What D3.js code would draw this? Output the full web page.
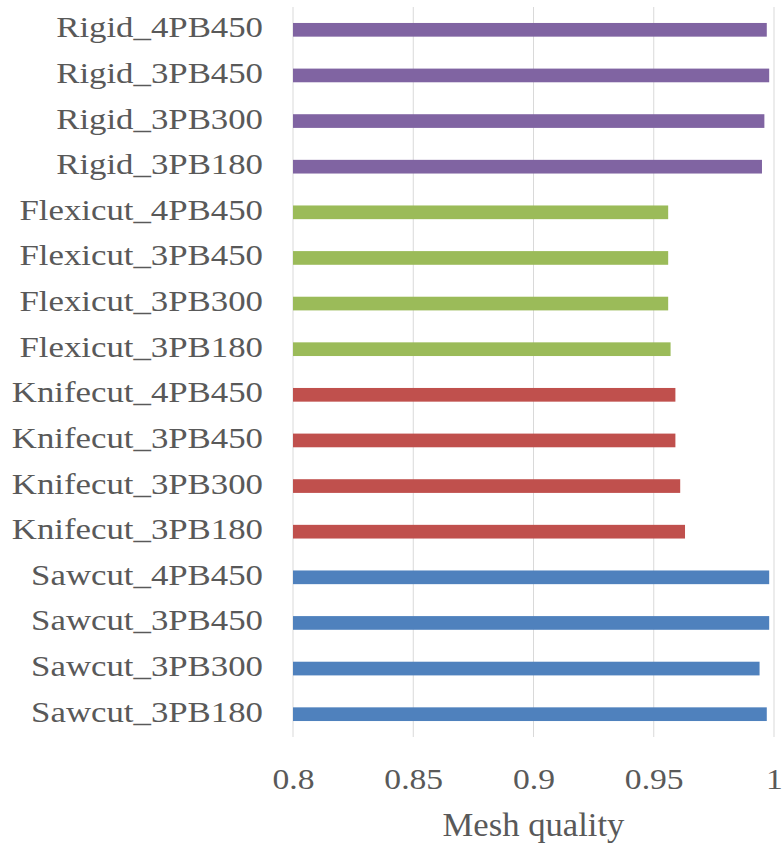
<!DOCTYPE html>
<html>
<head>
<meta charset="utf-8">
<script src="https://cdn.jsdelivr.net/npm/d3@7"></script>
<style>
  body { margin: 0; background: #fff; }
  text { font-family: "Liberation Serif", "Times New Roman", serif; fill: #595959; }
</style>
</head>
<body>
<div id="chart"></div>
<script>
// Mesh quality per specimen, listed bottom to top as in the chart
const categories = [
  "Sawcut_3PB180", "Sawcut_3PB300", "Sawcut_3PB450", "Sawcut_4PB450",
  "Knifecut_3PB180", "Knifecut_3PB300", "Knifecut_3PB450", "Knifecut_4PB450",
  "Flexicut_3PB180", "Flexicut_3PB300", "Flexicut_3PB450", "Flexicut_4PB450",
  "Rigid_3PB180", "Rigid_3PB300", "Rigid_3PB450", "Rigid_4PB450"
];
const values = [
  0.997, 0.994, 0.998, 0.998,
  0.963, 0.961, 0.959, 0.959,
  0.957, 0.956, 0.956, 0.956,
  0.995, 0.996, 0.998, 0.997
];
const groups = ["Sawcut", "Knifecut", "Flexicut", "Rigid"];
const groupColors = ["#4f81bd", "#c0504d", "#9bbb59", "#8064a2"];
const xTicks = [0.8, 0.85, 0.9, 0.95, 1];
const xTitle = "Mesh quality";

const data = categories.map((c, i) => ({name: c, value: values[i], group: c.split("_")[0]}));

const width = 782, height = 846,
  margin = ({top: 7, right: 8, bottom: 109, left: 293});

const svg = d3.select("#chart").append("svg")
  .attr("width", width).attr("height", height);

const x = d3.scaleLinear()
  .domain([0.8, 1])
  .range([margin.left, width - margin.right]);

// top row first
const y = d3.scaleBand()
  .domain(categories.slice().reverse())
  .range([margin.top, height - margin.bottom])
  .paddingInner(0.7)
  .paddingOuter(0.35);

const color = d3.scaleOrdinal().domain(groups).range(groupColors);

// vertical gridlines
svg.append("g")
  .selectAll("line")
  .data(xTicks)
  .join("line")
  .attr("x1", d => x(d)).attr("x2", d => x(d))
  .attr("y1", margin.top).attr("y2", height - margin.bottom)
  .attr("stroke", "#d9d9d9")
  .attr("stroke-width", 1);

// bars
svg.append("g")
  .selectAll("rect")
  .data(data)
  .join("rect")
  .attr("x", x(0.8))
  .attr("y", d => y(d.name))
  .attr("width", d => x(d.value) - x(0.8))
  .attr("height", y.bandwidth())
  .attr("fill", d => color(d.group));

// category labels (the source text is a bit stretched sideways)
svg.append("g")
  .attr("transform", `translate(${margin.left - 30},0)`)
  .call(d3.axisLeft(y).tickSize(0).tickPadding(0))
  .call(g => g.select(".domain").remove())
  .call(g => g.selectAll("text")
    .attr("x", 0)
    .attr("dy", "0.26em")
    .attr("transform", "scale(1.2,1)")
    .style("font-size", "29px")
    .style("font-family", "Liberation Serif, serif")
    .attr("fill", "#595959"));

// x axis tick labels
svg.append("g")
  .attr("transform", `translate(0,${height - margin.bottom})`)
  .call(d3.axisBottom(x).tickValues(xTicks).tickFormat(d => String(d)).tickSize(0))
  .call(g => g.select(".domain").remove())
  .call(g => g.selectAll("text")
    .attr("y", 52)
    .attr("dy", 0)
    .attr("transform", "scale(1.12,1)")
    .style("font-size", "30px")
    .style("font-family", "Liberation Serif, serif")
    .attr("fill", "#595959"));

// axis title
svg.append("text")
  .attr("transform", `translate(${(x(0.8) + x(1)) / 2},836) scale(1.05,1)`)
  .attr("text-anchor", "middle")
  .style("font-size", "33px")
  .text(xTitle);
</script>
</body>
</html>
